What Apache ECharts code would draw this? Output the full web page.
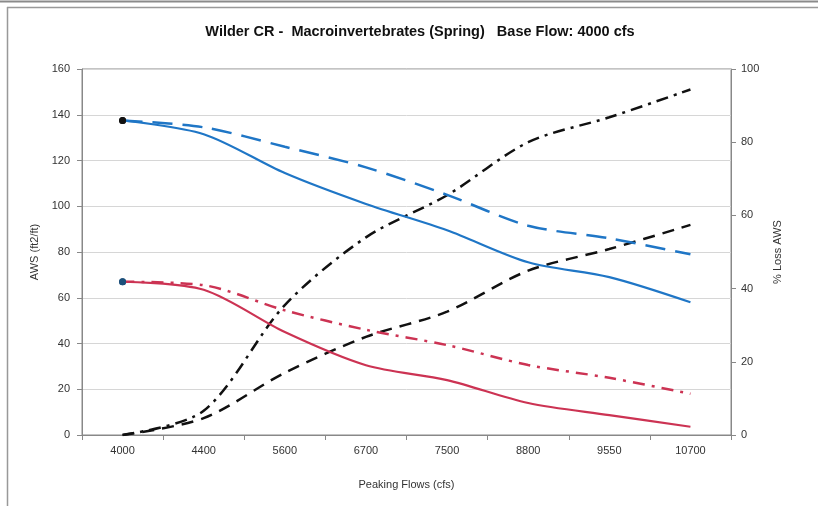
<!DOCTYPE html>
<html><head><meta charset="utf-8">
<script src="https://cdn.jsdelivr.net/npm/echarts@6/dist/echarts.min.js"></script>
<style>html,body{margin:0;padding:0;background:#fff}#c{width:818px;height:506px}</style>
</head><body><div id="c"></div>
<script>
const categories = ['4000','4400','5600','6700','7500','8800','9550','10700'];
const blueSolid = [137.5, 131.5, 114.5, 101, 89.5, 75.5, 69, 58];
const blueDashed = [137.5, 134.5, 126, 117, 105, 91.5, 86, 79];
const redSolid = [67, 63.5, 45, 30.5, 24, 14, 8.7, 3.6];
const redDashDot = [67, 65.5, 54.5, 46, 39.3, 30.6, 25, 18];
const lossDashDot = [0, 6.6, 35.5, 54, 65.5, 80, 86.8, 94.4];
const lossDashed = [0, 4.6, 17, 26.8, 33.7, 44.9, 50.8, 57.4];
const leftTicks = {min: 0, max: 160, interval: 20};
const rightTicks = {min: 0, max: 100, interval: 20};

const BLUE = '#1f76c6', RED = '#cc3353', BLACK = '#111';
function firstMarked(arr, color) {
  return arr.map((v, i) => i === 0
    ? {value: v, symbol: 'circle', symbolSize: 7, itemStyle: {color: color}}
    : {value: v, symbol: 'none'});
}
const font = 'Liberation Sans, Arial, sans-serif';
const chart = echarts.init(document.getElementById('c'), null, {renderer: 'canvas'});
chart.setOption({
  animation: false,
  backgroundColor: '#fff',
  title: {
    text: 'Wilder CR -  Macroinvertebrates (Spring)   Base Flow: 4000 cfs',
    left: 415, top: 19, textAlign: 'center',
    textStyle: {fontFamily: font, fontSize: 14.5, fontWeight: 'bold', color: '#111'}
  },
  graphic: [
    {type: 'line', shape: {x1: 0, y1: 1.5, x2: 818, y2: 1.5}, style: {stroke: '#8a8a8a', lineWidth: 2}},
    {type: 'line', shape: {x1: 7, y1: 7.5, x2: 818, y2: 7.5}, style: {stroke: '#999', lineWidth: 1.5}},
    {type: 'line', shape: {x1: 7.5, y1: 7, x2: 7.5, y2: 506}, style: {stroke: '#999', lineWidth: 1.5}}
  ],
  grid: {left: 82, top: 69, right: 87, bottom: 71, show: true, borderColor: '#888', borderWidth: 1},
  xAxis: {
    type: 'category', data: categories, boundaryGap: true,
    name: 'Peaking Flows (cfs)', nameLocation: 'middle', nameGap: 44,
    nameTextStyle: {fontFamily: font, fontSize: 11, color: '#333'},
    axisLine: {lineStyle: {color: '#888'}},
    axisTick: {show: true, alignWithLabel: false, length: 5, lineStyle: {color: '#888'}},
    axisLabel: {fontFamily: font, fontSize: 11, color: '#333', margin: 10}
  },
  yAxis: [
    {
      type: 'value', position: 'left', ...leftTicks,
      name: 'AWS (ft2/ft)', nameLocation: 'middle', nameGap: 40, nameRotate: 90,
      nameTextStyle: {fontFamily: font, fontSize: 11, color: '#333'},
      axisLine: {show: true, lineStyle: {color: '#888'}},
      axisTick: {show: true, length: 5, lineStyle: {color: '#888'}},
      axisLabel: {fontFamily: font, fontSize: 11, color: '#333', margin: 12},
      splitLine: {show: true, lineStyle: {color: '#d6d6d6', width: 1}}
    },
    {
      type: 'value', position: 'right', ...rightTicks,
      name: '% Loss AWS', nameLocation: 'middle', nameGap: 41, nameRotate: 90,
      nameTextStyle: {fontFamily: font, fontSize: 11, color: '#333'},
      axisLine: {show: true, lineStyle: {color: '#888'}},
      axisTick: {show: true, length: 5, lineStyle: {color: '#888'}},
      axisLabel: {fontFamily: font, fontSize: 11, color: '#333', margin: 10},
      splitLine: {show: false}
    }
  ],
  series: [
    {name: 'AWS dashed', type: 'line', yAxisIndex: 0, data: firstMarked(blueDashed, '#111'), smooth: 0.3,
     lineStyle: {color: BLUE, width: 2.5, type: [20, 10]}, itemStyle: {color: BLUE}, z: 3},
    {name: 'AWS solid', type: 'line', yAxisIndex: 0, data: firstMarked(blueSolid, '#111'), smooth: 0.3,
     lineStyle: {color: BLUE, width: 2.2}, itemStyle: {color: BLUE}, z: 4},
    {name: 'Red dashdot', type: 'line', yAxisIndex: 0, data: firstMarked(redDashDot, '#1c4f7a'), smooth: 0.3,
     lineStyle: {color: RED, width: 2.5, type: [12, 7, 3, 7]}, itemStyle: {color: RED}, z: 3},
    {name: 'Red solid', type: 'line', yAxisIndex: 0, data: firstMarked(redSolid, '#1c4f7a'), smooth: 0.3,
     lineStyle: {color: RED, width: 2.2}, itemStyle: {color: RED}, z: 4},
    {name: 'Loss dashdot', type: 'line', yAxisIndex: 1, data: lossDashDot, smooth: 0.3, showSymbol: false,
     lineStyle: {color: BLACK, width: 2.5, type: [12, 6, 3, 6]}, itemStyle: {color: BLACK}, z: 2},
    {name: 'Loss dashed', type: 'line', yAxisIndex: 1, data: lossDashed, smooth: 0.3, showSymbol: false,
     lineStyle: {color: BLACK, width: 2.5, type: [12, 8]}, itemStyle: {color: BLACK}, z: 2}
  ]
});
</script></body></html>
